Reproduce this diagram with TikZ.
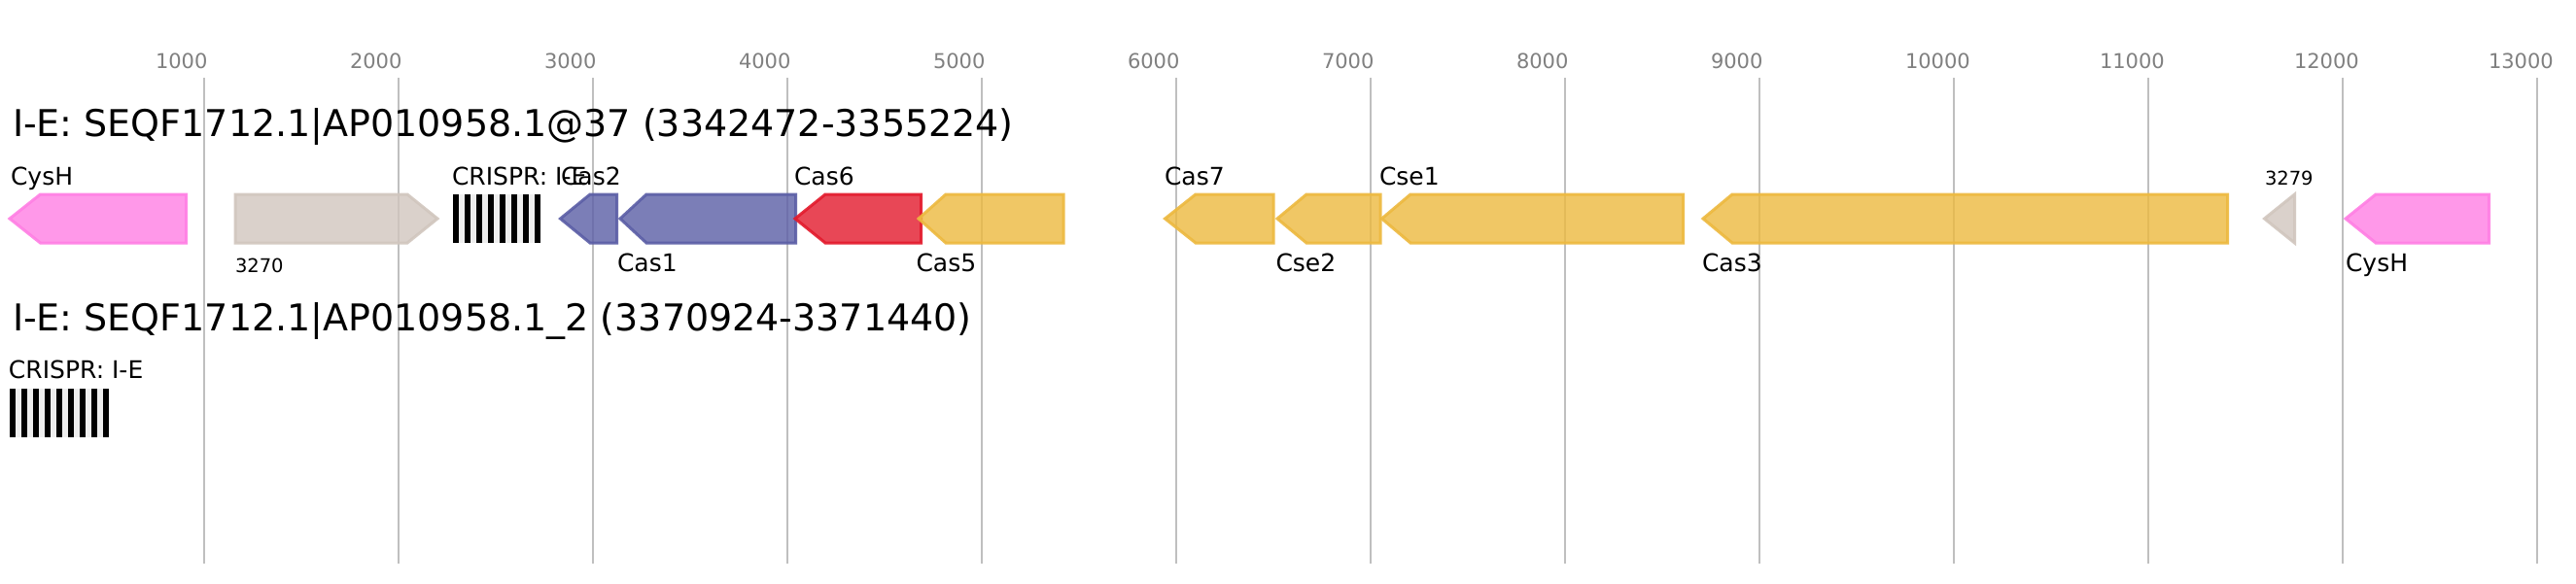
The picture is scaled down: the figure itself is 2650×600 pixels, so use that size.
\documentclass[tikz,border=0pt]{standalone}
\usepackage{fontspec}
\setmainfont{DejaVu Sans}
\definecolor{casY}{HTML}{EDB93F}
\definecolor{casB}{HTML}{5B5EA6}
\definecolor{casR}{HTML}{E31A2C}
\definecolor{casP}{HTML}{FF7FE4}
\definecolor{casG}{HTML}{D1C6BE}
\definecolor{gridc}{HTML}{BFBFBF}
\definecolor{tickc}{HTML}{808080}
\definecolor{gapc}{HTML}{EEEEEE}
\tikzset{
  gene/.style={line width=3pt, line join=miter, fill opacity=0.8, draw opacity=0.9},
  gridline/.style={draw=gridc, line width=2pt},
  ticklbl/.style={anchor=base west, inner sep=0pt, outer sep=0pt, text=tickc, font=\fontsize{21}{24}\selectfont},
  titlelbl/.style={anchor=base west, inner sep=0pt, outer sep=0pt, font=\fontsize{38}{42}\selectfont},
  genelbl/.style={anchor=base west, inner sep=0pt, outer sep=0pt, font=\fontsize{25}{28}\selectfont},
  smalllbl/.style={anchor=base west, inner sep=0pt, outer sep=0pt, font=\fontsize{19.5}{22}\selectfont},
}
% leftward gene: colour, tip x, body x, right x, centre y
\newcommand\GeneLeft[5]{%
  \draw[gene,draw=#1,fill=#1] ({#2},{#5}) -- ({#3},{#5-25}) -- ({#4},{#5-25}) -- ({#4},{#5+25}) -- ({#3},{#5+25}) -- cycle;}
% rightward gene: colour, left x, body end x, tip x, centre y
\newcommand\GeneRight[5]{%
  \draw[gene,draw=#1,fill=#1] ({#2},{#5-25}) -- ({#3},{#5-25}) -- ({#4},{#5}) -- ({#3},{#5+25}) -- ({#2},{#5+25}) -- cycle;}
% CRISPR array: left x, top y, number of repeats
\newcommand\CrisprArr[3]{%
  \fill[gapc] ({#1},{#2}) rectangle ({#1+12*(#3-1)+6},{#2+50});
  \foreach \i in {1,...,#3} {\fill[black] ({#1+12*(\i-1)},{#2}) rectangle ++(6,50);}}
\begin{document}
\begin{tikzpicture}[x=1pt,y=-1pt]
\useasboundingbox (0,0) rectangle (2650,600);
\fill[white] (0,0) rectangle (2650,600);
% grid and ticks
\foreach \k in {1,...,13} {
  \draw[gridline] ({10+200*\k},80) -- ({10+200*\k},580);
  \node[ticklbl] (tick\k) at ({10+200*\k-50},70) {\k000};
}
% track 1
\node[titlelbl] (title1) at (13,140) {I-E: SEQF1712.1|AP010958.1@37 (3342472-3355224)};
\GeneLeft{casP}{10}{41.5}{191.5}{225}
\GeneRight{casG}{242}{419}{450}{225}
\CrisprArr{466}{200}{8}
\GeneLeft{casB}{576.5}{607}{634.5}{225}
\GeneLeft{casB}{638}{665}{818.5}{225}
\GeneLeft{casR}{818}{849}{947.5}{225}
\GeneLeft{casY}{945}{973}{1094}{225}
\GeneLeft{casY}{1198.5}{1230}{1310}{225}
\GeneLeft{casY}{1314}{1344}{1420}{225}
\GeneLeft{casY}{1421.5}{1451}{1731.5}{225}
\GeneLeft{casY}{1752}{1782}{2291.5}{225}
\draw[gene,draw=casG,fill=casG] (2329.5,225) -- (2360.5,200) -- (2360.5,250) -- cycle;
\GeneLeft{casP}{2413}{2444}{2560.5}{225}
% labels above
\node[genelbl] (lCysH1) at (11,190) {CysH};
\node[genelbl] (lCR1) at (465,190) {CRISPR: I-E};
\node[genelbl] (lCas2) at (577,190) {Cas2};
\node[genelbl] (lCas6) at (817,190) {Cas6};
\node[genelbl] (lCas7) at (1198,190) {Cas7};
\node[genelbl] (lCse1) at (1419,190) {Cse1};
\node[smalllbl] (l3279) at (2330,190) {3279};
% labels below
\node[smalllbl] (l3270) at (242,280) {3270};
\node[genelbl] (lCas1) at (635,279) {Cas1};
\node[genelbl] (lCas5) at (942.5,279) {Cas5};
\node[genelbl] (lCse2) at (1312.5,279) {Cse2};
\node[genelbl] (lCas3) at (1751,279) {Cas3};
\node[genelbl] (lCysH2) at (2413,279) {CysH};
% track 2
\node[titlelbl] (title2) at (13,340) {I-E: SEQF1712.1|AP010958.1\_2 (3370924-3371440)};
\node[genelbl] (lCR2) at (9,389) {CRISPR: I-E};
\CrisprArr{10}{400}{9}
\end{tikzpicture}
\end{document}
